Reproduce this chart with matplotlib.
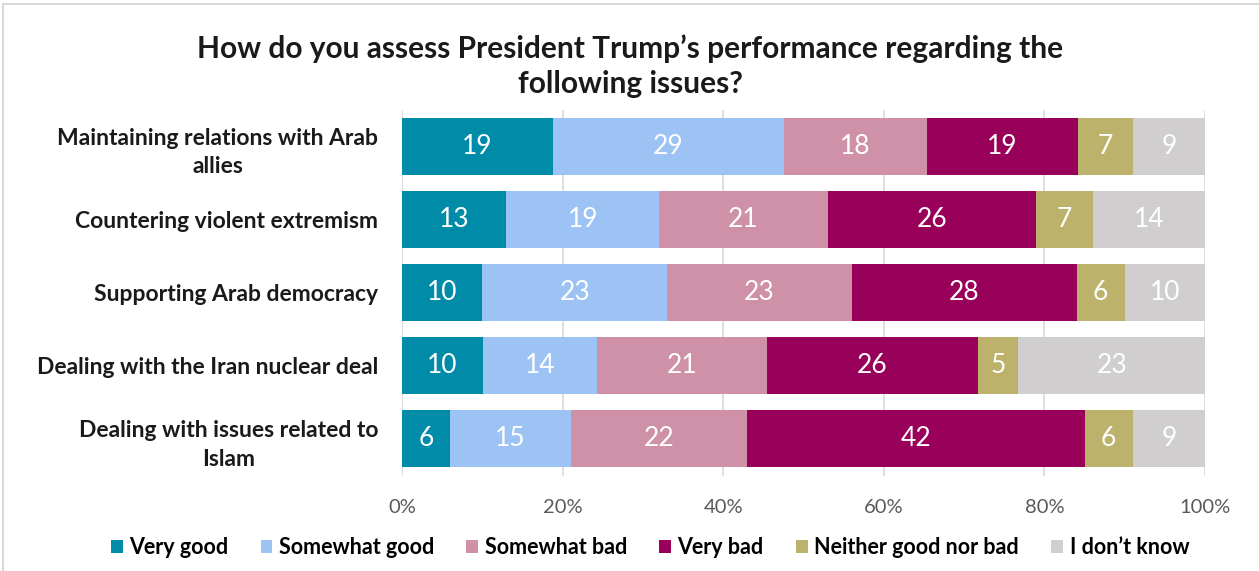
import matplotlib
matplotlib.use("Agg")
import matplotlib.pyplot as plt
import numpy as np
from matplotlib.patches import Rectangle

categories = [
    "Maintaining relations with Arab\nallies",
    "Countering violent extremism",
    "Supporting Arab democracy",
    "Dealing with the Iran nuclear deal",
    "Dealing with issues related to\nIslam",
]
series_names = ["Very good", "Somewhat good", "Somewhat bad", "Very bad",
                "Neither good nor bad", "I don\u2019t know"]
very_good = [19, 13, 10, 10, 6]
somewhat_good = [29, 19, 23, 14, 15]
somewhat_bad = [18, 21, 23, 21, 22]
very_bad = [19, 26, 28, 26, 42]
neither = [7, 7, 6, 5, 6]
dont_know = [9, 14, 10, 23, 9]
x_ticks = [0, 20, 40, 60, 80, 100]
tick_labels = ["0%", "20%", "40%", "60%", "80%", "100%"]
title = "How do you assess President Trump\u2019s performance regarding the\nfollowing issues?"

colors = ["#008CA8", "#9DC3F5", "#CF91A8", "#990059", "#BCB26B", "#D0CECE"]

plt.rcParams['font.family'] = ['Lato', 'DejaVu Sans']

data = np.array([very_good, somewhat_good, somewhat_bad, very_bad, neither, dont_know], dtype=float)
totals = data.sum(axis=0)
pct = data / totals * 100

fig = plt.figure(figsize=(12.59, 5.71), dpi=100)
ax = fig.add_axes([402/1259, 1-475.5/571, (1205-402)/1259, (475.5-110)/571])

y = np.arange(len(categories))
left = np.zeros(len(categories))
handles = []
for i, name in enumerate(series_names):
    h = ax.barh(y, pct[i], left=left, height=0.78, color=colors[i], label=name, zorder=3)
    handles.append(h)
    for j in range(len(categories)):
        ax.text(left[j] + pct[i][j] / 2, y[j], str(int(data[i][j])), ha="center", va="center",
                color="white", fontsize=19, zorder=4)
    left += pct[i]

ax.set_xlim(0, 100)
ax.set_ylim(len(categories) - 0.5, -0.5)
ax.set_xticks(x_ticks)
ax.set_xticklabels(tick_labels, color="#595959", fontsize=14.5)
ax.set_yticks(y)
ax.set_yticklabels(categories, fontsize=16.5, fontweight="bold", color="#1a1a1a", linespacing=1.45)
ax.tick_params(axis="both", length=0)
ax.tick_params(axis="x", pad=17)
ax.tick_params(axis="y", pad=17)
for lbl in ax.get_yticklabels():
    lbl.set_multialignment("center")
ax.grid(axis="x", color="#D9D9D9", linewidth=1.2, zorder=0)
for s in ax.spines.values():
    s.set_visible(False)

fig.text(630/1259, 1-66/571, title, ha="center", va="center", fontsize=21.5,
         fontweight="bold", color="#1a1a1a", linespacing=1.3)

leg = fig.legend(handles=handles, labels=series_names, loc="center", bbox_to_anchor=(650/1259, 1-548/571),
                 ncol=6, frameon=False, handlelength=0.55, handleheight=0.55,
                 handletextpad=0.3, columnspacing=1.5, prop={"weight": "bold", "size": 15.5})

fig.patches.append(Rectangle((3/1259, -0.1), 1.2, 1 - 4/571 + 0.1, transform=fig.transFigure,
                             fill=False, edgecolor="#D9D9D9", linewidth=1.5))

fig.savefig("out.png", dpi=100)
